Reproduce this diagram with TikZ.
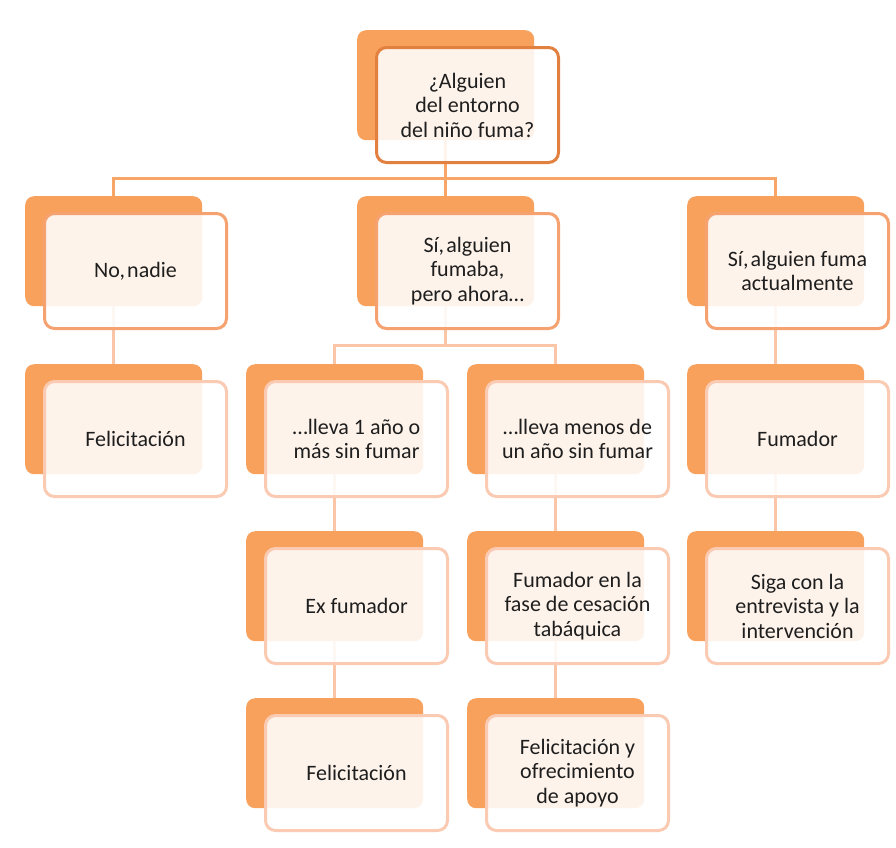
\documentclass[tikz,border=0pt]{standalone}
\usepackage{fontspec}
\setmainfont{Carlito}
\usetikzlibrary{backgrounds}
\definecolor{backor}{RGB}{248,161,92}
\definecolor{edgeA}{RGB}{226,128,64}
\definecolor{edgeB}{RGB}{246,162,112}
\definecolor{edgeC}{RGB}{250,202,178}
\definecolor{connA}{RGB}{247,166,104}
\definecolor{connB}{RGB}{251,198,168}
\definecolor{txt}{RGB}{30,30,30}
\tikzset{
  backbox/.style={fill=backor, draw=none, rounded corners=9pt,
    minimum width=177pt, minimum height=110pt, inner sep=0pt, anchor=north west},
  frontbox/.style={fill=white, fill opacity=0.88, text opacity=1, line width=3pt,
    rounded corners=10pt, minimum width=182pt, minimum height=115pt, inner sep=0pt,
    anchor=north west, align=center, text=txt,
    font=\fontsize{22}{24.5}\selectfont},
  lvA/.style={draw=edgeA},
  lvB/.style={draw=edgeB},
  lvC/.style={draw=edgeC},
  connone/.style={draw=connA, line width=3pt},
  conntwo/.style={draw=connB, line width=3pt}
}
\newcommand\twobox[5]{%
  \node[backbox] (#1b) at (#2,#3) {};
  \node[frontbox,#4] (#1) at (#2+18,#3+16) {#5};
}
\begin{document}
\begin{tikzpicture}[x=1pt,y=-1pt]
\useasboundingbox (0,0) rectangle (896,847);
% row 1
\twobox{top}{357}{30}{lvA}{¿Alguien\\del entorno\\del niño fuma?}
% row 2
\twobox{no}{25}{196}{lvB}{No,\kern0.1em nadie}
\twobox{fumaba}{357}{196}{lvB}{Sí,\kern0.1em alguien\\fumaba,\\pero ahora…}
\twobox{fuma}{687}{196}{lvB}{Sí,\kern0.1em alguien fuma\\actualmente}
% row 3
\twobox{felA}{25}{364}{lvC}{Felicitación}
\twobox{anio}{246}{364}{lvC}{…lleva 1 año o\\más sin fumar}
\twobox{menos}{467}{364}{lvC}{…lleva menos de\\un año sin fumar}
\twobox{fumador}{687}{364}{lvC}{Fumador}
% row 4
\twobox{ex}{246}{531}{lvC}{Ex fumador}
\twobox{fase}{467}{531}{lvC}{Fumador en la\\fase de cesación\\tabáquica}
\twobox{siga}{687}{531}{lvC}{Siga con la\\entrevista y la\\intervención}
% row 5
\twobox{felB}{246}{698}{lvC}{Felicitación}
\twobox{apoyo}{467}{698}{lvC}{Felicitación y\\ofrecimiento\\de apoyo}
\begin{pgfonlayer}{background}
  \coordinate (h1) at (0,178);
  \coordinate (h2) at (0,345);
  \draw[connone] (topb.south) -- (topb.south |- h1) -| (nob.north);
  \draw[connone] (topb.south |- h1) -| (fumab.north);
  \draw[connone] (topb.south) -- (fumabab.north);
  \draw[conntwo] (fumabab.south) -- (fumabab.south |- h2) -| (aniob.north);
  \draw[conntwo] (fumabab.south |- h2) -| (menosb.north);
  \draw[conntwo] (nob.south) -- (felAb.north);
  \draw[conntwo] (fumab.south) -- (fumadorb.north);
  \draw[conntwo] (fumadorb.south) -- (sigab.north);
  \draw[conntwo] (aniob.south) -- (exb.north);
  \draw[conntwo] (exb.south) -- (felBb.north);
  \draw[conntwo] (menosb.south) -- (faseb.north);
  \draw[conntwo] (faseb.south) -- (apoyob.north);
\end{pgfonlayer}
\end{tikzpicture}
\end{document}
